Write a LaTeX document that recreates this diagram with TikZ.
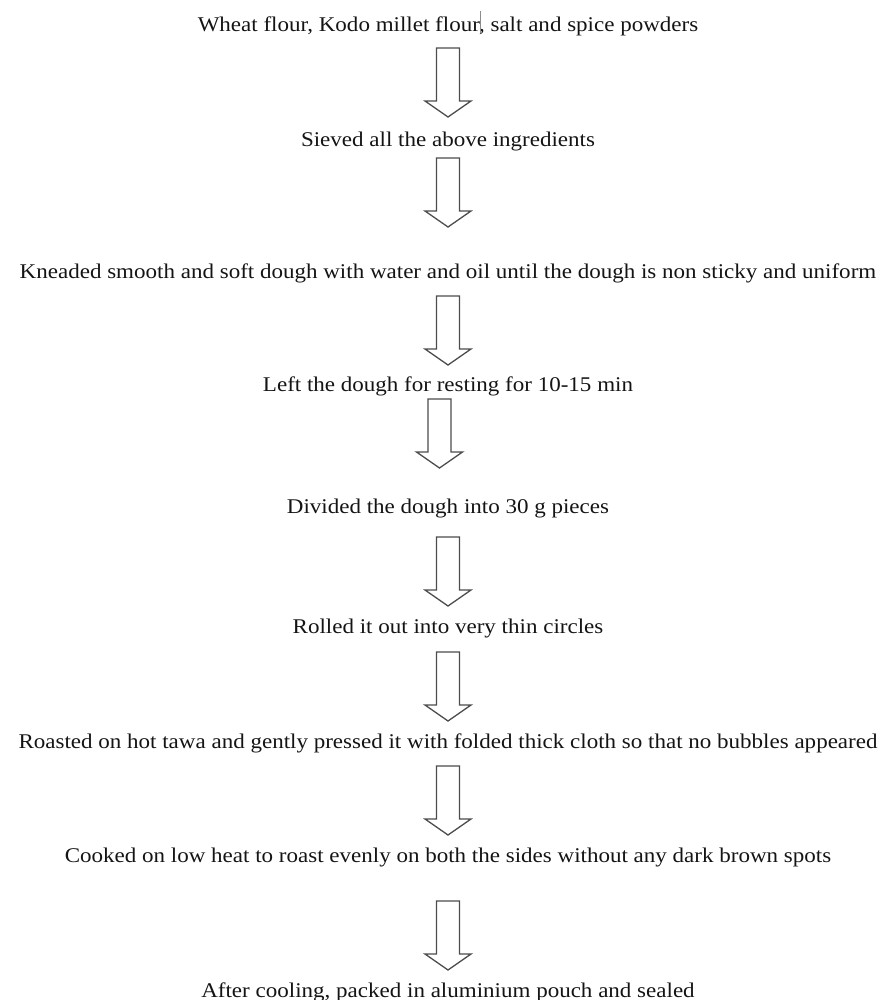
\documentclass[tikz,border=0pt]{standalone}
\usepackage{fontspec}
\setmainfont{Liberation Serif}
\begin{document}
\begin{tikzpicture}[x=1bp,y=-1bp,
  steptext/.style={anchor=base,inner sep=0pt,font=\fontsize{21}{25}\selectfont,text=black!92},
  arrowline/.style={draw=black!70,line width=1.3bp,line join=miter},
  downarrow/.pic={\draw[arrowline] (-11.5,0) -- (11.5,0) -- (11.5,53) -- (23,53) -- (0,69) -- (-23,53) -- (-11.5,53) -- cycle;}]
\useasboundingbox (0,0) rectangle (887,1000);
\newcommand{\sx}[1]{\scalebox{1.10}[1]{#1}}
\node[steptext] (l1) at (448,31) {\sx{Wheat flour, Kodo millet flour, salt and spice powders}};
\node[steptext] (l2) at (448,146) {\sx{Sieved all the above ingredients}};
\node[steptext] (l3) at (448,278) {\sx{Kneaded smooth and soft dough with water and oil until the dough is non sticky and uniform}};
\node[steptext] (l4) at (448,391) {\sx{Left the dough for resting for 10-15 min}};
\node[steptext] (l5) at (448,513) {\sx{Divided the dough into 30 g pieces}};
\node[steptext] (l6) at (448,633) {\sx{Rolled it out into very thin circles}};
\node[steptext] (l7) at (448,748) {\sx{Roasted on hot tawa and gently pressed it with folded thick cloth so that no bubbles appeared}};
\node[steptext] (l8) at (448,862) {\sx{Cooked on low heat to roast evenly on both the sides without any dark brown spots}};
\node[steptext] (l9) at (448,997) {\sx{After cooling, packed in aluminium pouch and sealed}};
\draw[black!45,line width=0.6bp] (480,11) -- (480,33);
\pic at (448,48) {downarrow};
\pic at (448,158) {downarrow};
\pic at (448,296) {downarrow};
\pic at (439.5,399) {downarrow};
\pic at (448,537) {downarrow};
\pic at (448,652) {downarrow};
\pic at (448,766) {downarrow};
\pic at (448,901) {downarrow};
\end{tikzpicture}
\end{document}
